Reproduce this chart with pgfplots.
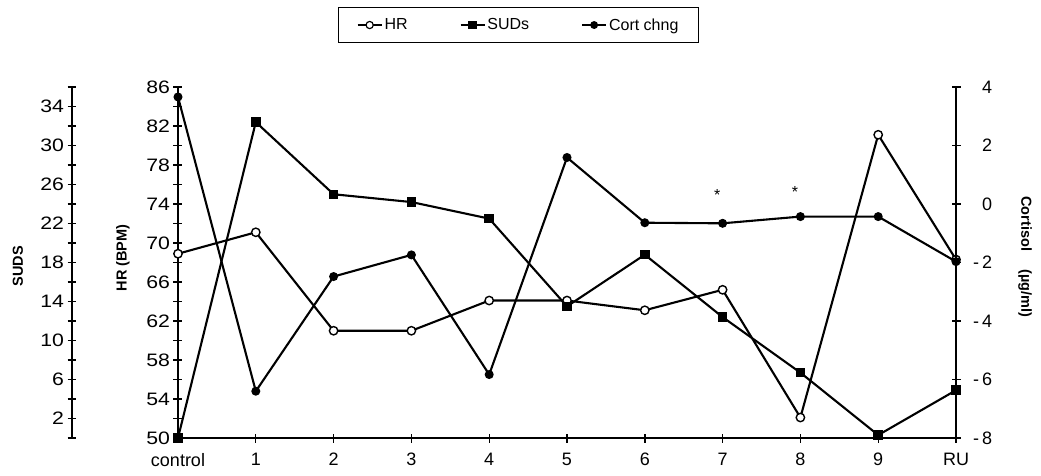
\documentclass[border=0pt]{standalone}
\usepackage{fontspec}
\setmainfont{Liberation Sans}
\newfontfamily\wideff[FakeStretch=1.18]{Liberation Sans}
\usepackage{pgfplots}
\pgfplotsset{compat=1.18}
\newcommand\tickfont{\fontsize{18}{20}\selectfont}
\newcommand\widetickfont{\wideff\fontsize{18}{20}\selectfont}
\newcommand\labfont{\fontsize{14.5}{16}\selectfont\bfseries}
\pgfplotsset{
  base/.style={scale only axis, width=778pt, height=351pt, xmin=0, xmax=10,
    at={(0,0)}, anchor=south west, clip=false,
    /pgf/number format/assume math mode=true,
    tick align=center, major tick length=9pt, minor tick length=9pt,
    every tick/.style={line width=1.4pt, black},
    axis line style={-, line width=2.6pt},
    ticklabel style={font=\tickfont}},
  ser/.style={line width=2.1pt, black},
}
\begin{document}
\begin{tikzpicture}
% HR axis (main)
\begin{axis}[base, name=main, ymin=50, ymax=86,
  axis x line=bottom, axis y line=left,
  x axis line style={-}, y axis line style={-},
  xtick={0,...,10}, xticklabels={control,1,2,3,4,5,6,7,8,9,RU},
  xticklabel style={yshift=-7pt},
  ytick={50,54,...,86}, minor ytick={52,56,...,84},
  yticklabel style={font=\widetickfont},
  legend style={at={(0.206,1.228)}, anchor=north west, legend columns=3,
    draw=black, line width=1pt, font=\fontsize{16}{18}\selectfont,
    inner xsep=18pt, inner ysep=9pt,
    /tikz/every even column/.append style={column sep=50pt}},
  legend image code/.code={\draw[#1] (0pt,0pt) -- (24pt,0pt);
    \draw[#1, only marks] plot coordinates {(12pt,0pt)};},
  legend cell align=left]
\addlegendimage{ser, line width=1.8pt, mark=*, mark size=3.6pt, mark options={fill=white, line width=1.2pt}}
\addlegendentry{HR}
\addlegendimage{ser, line width=1.8pt, mark=square*, mark size=3.2pt}
\addlegendentry{SUDs}
\addlegendimage{ser, line width=1.8pt, mark=*, mark size=3pt}
\addlegendentry{Cort chng}
\addplot[ser, mark=*, mark size=4.2pt, mark options={fill=white, line width=1.4pt}] coordinates {
 (0,68.9) (1,71.1) (2,61) (3,61) (4,64.1) (5,64.1) (6,63.1) (7,65.2) (8,52.1) (9,81.1) (10,68.3)};
\node[rotate=90, font=\labfont] at ([xshift=-55pt]rel axis cs:0,0.513) {HR (BPM)};
\node[rotate=90, font=\labfont] at ([xshift=-160pt]rel axis cs:0,0.49) {SUDS};
\end{axis}
% SUDs data axis
\begin{axis}[base, hide axis, ymin=0, ymax=36]
\addplot[ser, mark=square*, mark size=3.7pt] coordinates {
 (0,0) (1,32.4) (2,25) (3,24.2) (4,22.5) (5,13.5) (6,18.8) (7,12.4) (8,6.7) (9,0.3) (10,4.9)};
\end{axis}
% SUDS tick axis
\begin{axis}[base, width=1pt, at={(-106pt,0)}, xmin=0, xmax=1, hide x axis,
  axis y line=left, y axis line style={-},
  ymin=0, ymax=36,
  ytick={2,6,...,34}, minor ytick={0,4,...,36},
  yticklabel style={font=\widetickfont}]
\end{axis}
% Cortisol axis
\begin{axis}[base, hide x axis, axis y line=right, y axis line style={-},
  ymin=-8, ymax=4,
  ytick={-8,-6,...,4},
  yticklabels={\llap{-\,}8,\llap{-\,}6,\llap{-\,}4,\llap{-\,}2,0,2,4},
  yticklabel shift=18pt]
\addplot[ser, mark=*, mark size=3.4pt] coordinates {
 (0,3.66) (1,-6.4) (2,-2.48) (3,-1.74) (4,-5.83) (5,1.59) (6,-0.64) (7,-0.66) (8,-0.43) (9,-0.43) (10,-1.97)};
\node[font=\fontsize{16}{18}\selectfont] at (axis cs:6.93,0.3) {*};
\node[font=\fontsize{16}{18}\selectfont] at (axis cs:7.93,0.4) {*};
\node[rotate=-90, font=\labfont] at ([xshift=69pt]rel axis cs:1,0.516) {Cortisol\quad\ (µg/ml)};
\end{axis}
\pgfresetboundingbox
\path[use as bounding box] (main.south west) ++(-178pt,-37pt) rectangle ++(1041pt,475pt);
\end{tikzpicture}
\end{document}
